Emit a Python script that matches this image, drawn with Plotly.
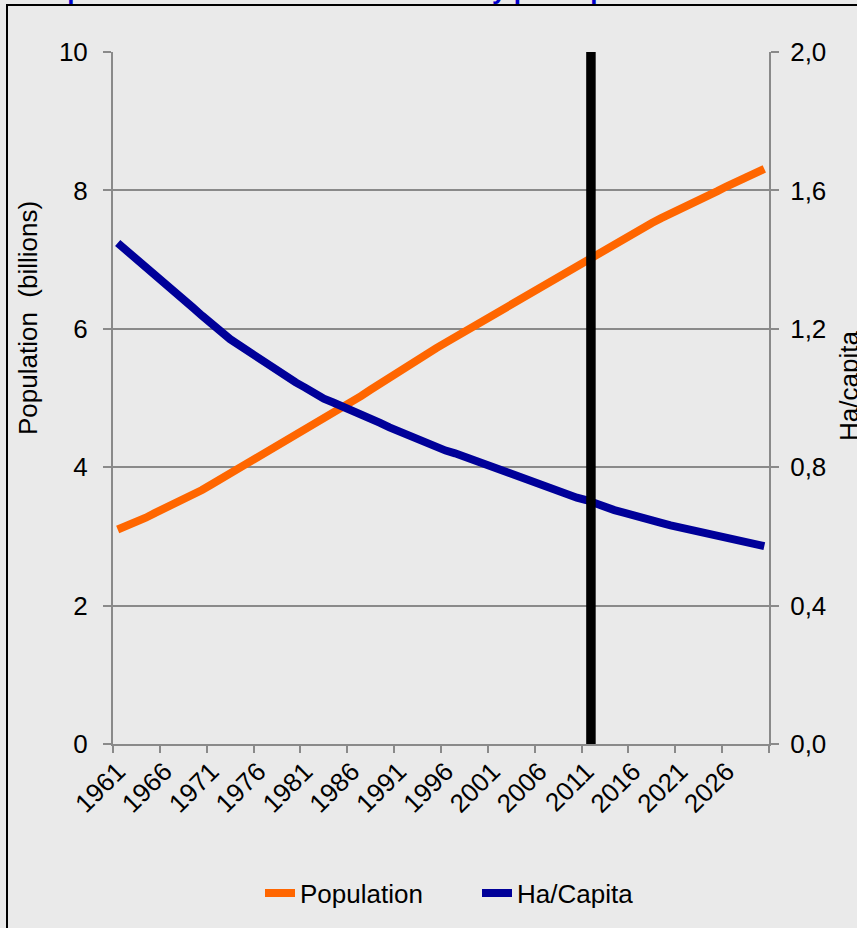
import plotly.graph_objects as go

# ---- data -------------------------------------------------------------
years = list(range(1961, 2031))

population_billions = [
    3.10, 3.15, 3.20, 3.27, 3.34, 3.40, 3.47, 3.53, 3.60, 3.67,
    3.75, 3.83, 3.91, 3.99, 4.07, 4.14, 4.21, 4.29, 4.37, 4.45,
    4.53, 4.60, 4.68, 4.76, 4.85, 4.94, 5.03, 5.12, 5.21, 5.30,
    5.39, 5.48, 5.56, 5.64, 5.72, 5.80, 5.88, 5.96, 6.04, 6.12,
    6.20, 6.28, 6.36, 6.44, 6.52, 6.60, 6.68, 6.76, 6.84, 6.92,
    7.00, 7.08, 7.16, 7.24, 7.32, 7.40, 7.46, 7.53, 7.60, 7.66,
    7.73, 7.80, 7.86, 7.93, 7.99, 8.06, 8.12, 8.19, 8.25, 8.31,
]

ha_per_capita = [
    1.448, 1.425, 1.404, 1.382, 1.360, 1.338, 1.312, 1.285, 1.262, 1.238,
    1.213, 1.190, 1.170, 1.152, 1.133, 1.115, 1.098, 1.080, 1.062, 1.045,
    1.030, 1.013, 0.998, 0.987, 0.976, 0.966, 0.955, 0.944, 0.928, 0.915,
    0.903, 0.892, 0.881, 0.872, 0.860, 0.848, 0.840, 0.830, 0.820, 0.810,
    0.800, 0.790, 0.778, 0.770, 0.760, 0.750, 0.741, 0.733, 0.723, 0.712,
    0.705, 0.694, 0.684, 0.676, 0.669, 0.660, 0.652, 0.646, 0.639, 0.632,
    0.626, 0.621, 0.615, 0.607, 0.601, 0.595, 0.589, 0.581, 0.577, 0.572,
]

# boundary between observed and projected years
projection_break = [2011.5, 2011.5]
projection_span = [0, 10]

x_tick_years = list(range(1961, 2030, 5))
x_tick_labels = [str(y) for y in x_tick_years]
x_boundaries = [y - 0.5 for y in range(1961, 2032, 5)]

left_ticks = [0, 2, 4, 6, 8, 10]
right_ticks = [0.0, 0.4, 0.8, 1.2, 1.6, 2.0]
right_tick_labels = ["0,0", "0,4", "0,8", "1,2", "1,6", "2,0"]

title_text = "Population and arable land availability per capita"

# ---- styling ----------------------------------------------------------
FONT = "Liberation Sans, Arial, sans-serif"
BG = "#EAEAEA"
GRID = "#8A8A8A"
ORANGE = "#FF6600"
NAVY = "#000099"

# plot-area pixel geometry (used for paper-coordinate placement)
W, H = 857, 928
L, R, T, B = 113, 88, 52, 184
PW, PH = W - L - R, H - T - B


def px_x(x):
    return (x - L) / PW


def px_y(y):
    return (H - B - y) / PH


fig = go.Figure()

fig.add_trace(go.Scatter(
    x=years, y=population_billions, name="Population",
    mode="lines", line=dict(color=ORANGE, width=8),
    xaxis="x", yaxis="y",
))
fig.add_trace(go.Scatter(
    x=years, y=ha_per_capita, name="Ha/Capita",
    mode="lines", line=dict(color=NAVY, width=8),
    xaxis="x", yaxis="y2",
))
fig.add_trace(go.Scatter(
    x=projection_break, y=projection_span, mode="lines",
    line=dict(color="#000000", width=9.5), showlegend=False,
    hoverinfo="skip", xaxis="x", yaxis="y3",
))

axis_font = dict(family=FONT, size=26, color="#000000")

fig.update_layout(
    width=W, height=H, autosize=False,
    margin=dict(l=L, r=R, t=T, b=B, pad=0),
    paper_bgcolor=BG, plot_bgcolor=BG,
    font=axis_font,
    xaxis=dict(
        range=[x_boundaries[0], x_boundaries[-1]],
        tickmode="array", tickvals=x_tick_years, ticktext=x_tick_labels,
        tickangle=-45, ticks="", showgrid=False, zeroline=False,
        showline=True, linecolor=GRID, linewidth=2,
        tickfont=axis_font,
        minor=dict(tickmode="array", tickvals=x_boundaries,
                   ticks="outside", ticklen=7, tickwidth=2,
                   tickcolor=GRID, showgrid=False),
    ),
    yaxis=dict(
        range=[0, 10], tickmode="array", tickvals=left_ticks,
        ticks="outside", ticklen=8, tickwidth=2, tickcolor=GRID,
        showgrid=True, gridcolor=GRID, gridwidth=2,
        zeroline=False, showline=True, linecolor=GRID, linewidth=2,
        tickfont=axis_font, ticklabelstandoff=10,
    ),
    yaxis2=dict(
        range=[0, 2], overlaying="y", side="right",
        tickmode="array", tickvals=right_ticks, ticktext=right_tick_labels,
        ticks="outside", ticklen=8, tickwidth=2, tickcolor=GRID,
        showgrid=False, zeroline=False,
        showline=True, linecolor=GRID, linewidth=2,
        tickfont=axis_font, ticklabelstandoff=6,
    ),
    yaxis3=dict(range=[0, 10], overlaying="y", visible=False),
    showlegend=True,
    legend=dict(
        orientation="h", x=px_x(477), xanchor="center",
        y=px_y(893), yanchor="middle",
        font=axis_font, bgcolor="rgba(0,0,0,0)",
        entrywidth=172, entrywidthmode="pixels",
    ),
)

# axis titles
fig.add_annotation(
    text="Population \u00a0(billions)", textangle=-90,
    xref="paper", yref="paper", x=px_x(28), y=px_y(318),
    xanchor="center", yanchor="middle", showarrow=False,
    font=axis_font,
)
fig.add_annotation(
    text="Ha/capita", textangle=-90,
    xref="paper", yref="paper", x=px_x(849), y=px_y(386),
    xanchor="center", yanchor="middle", showarrow=False,
    font=axis_font,
)

# chart title (sits above the frame)
fig.add_annotation(
    text="<b>" + title_text + "</b>",
    xref="paper", yref="paper", x=px_x(32), y=px_y(7),
    xanchor="left", yanchor="bottom", showarrow=False,
    font=dict(family=FONT, size=26, color="#0000CC"),
)

# outer frame
fig.add_shape(
    type="rect", xref="paper", yref="paper",
    x0=px_x(7), x1=px_x(W + 20), y0=px_y(H + 20), y1=px_y(5),
    line=dict(color="#000000", width=2), fillcolor="rgba(0,0,0,0)",
    layer="below",
)

fig.write_html("out.html")
